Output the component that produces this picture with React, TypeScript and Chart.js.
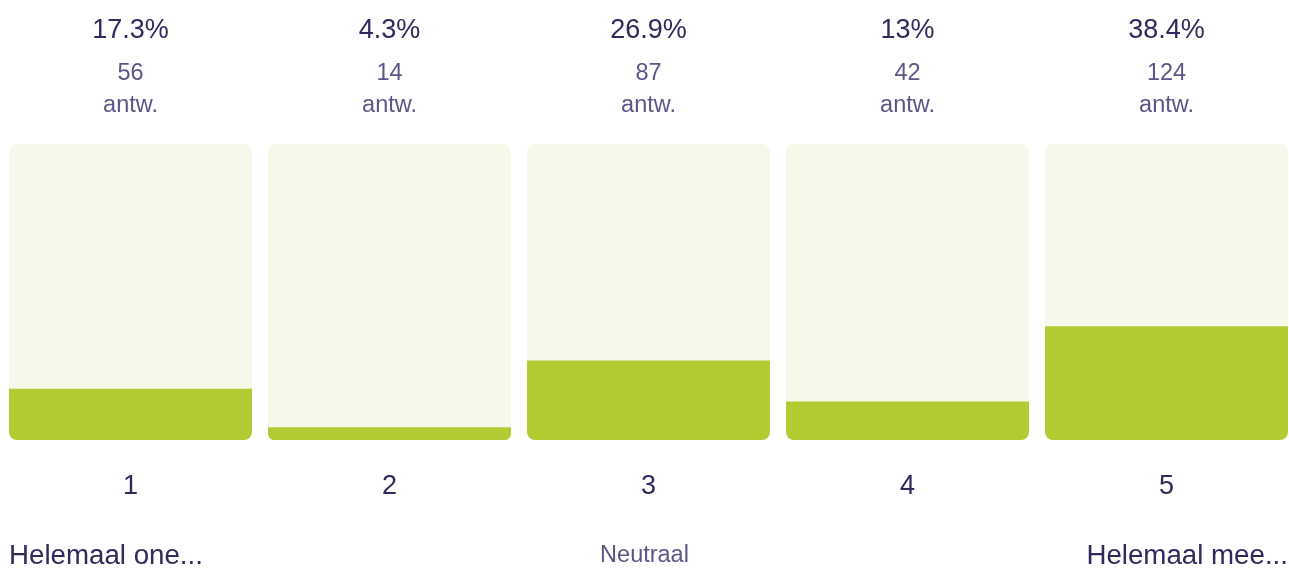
import React, { useEffect, useRef } from "react";
import { Chart, registerables } from "chart.js";

Chart.register(...registerables);

const categories = ["1", "2", "3", "4", "5"];
const percentages = [17.3, 4.3, 26.9, 13, 38.4];
const percentLabels = ["17.3%", "4.3%", "26.9%", "13%", "38.4%"];
const counts = [56, 14, 87, 42, 124];
const trackValues = [100, 100, 100, 100, 100];
const anchorLabels = ["Helemaal one...", "", "Neutraal", "", "Helemaal mee..."];

const FONT = "'Liberation Sans', Arial, sans-serif";
const DARK = "#2e2a5c";
const MID = "#5b5689";

const textPlugin = {
  id: "surveyText",
  afterDraw(chart: any) {
    const ctx = chart.ctx;
    const x = chart.scales.x;
    ctx.save();
    ctx.textAlign = "center";
    ctx.textBaseline = "alphabetic";
    categories.forEach((c, i) => {
      const cx = x.getPixelForValue(i);
      ctx.fillStyle = DARK;
      ctx.font = `27px ${FONT}`;
      ctx.fillText(percentLabels[i], cx, 38);
      ctx.fillStyle = MID;
      ctx.font = `23.5px ${FONT}`;
      ctx.fillText(String(counts[i]), cx, 80);
      ctx.fillText("antw.", cx, 112);
      ctx.fillStyle = DARK;
      ctx.font = `27px ${FONT}`;
      ctx.fillText(c, cx, 494);
    });
    const meta = chart.getDatasetMeta(1);
    anchorLabels.forEach((lab, i) => {
      if (!lab) return;
      const bar = meta.data[i];
      const half = bar.width / 2;
      if (i === 0) {
        ctx.textAlign = "left";
        ctx.fillStyle = DARK;
        ctx.font = `27.7px ${FONT}`;
        ctx.fillText(lab, bar.x - half, 564);
      } else if (i === anchorLabels.length - 1) {
        ctx.textAlign = "right";
        ctx.fillStyle = DARK;
        ctx.font = `27.7px ${FONT}`;
        ctx.fillText(lab, bar.x + half, 564);
      } else {
        ctx.textAlign = "center";
        ctx.fillStyle = MID;
        ctx.font = `23.5px ${FONT}`;
        ctx.fillText(lab, bar.x - 4, 562);
      }
    });
    ctx.restore();
  },
};

export default function App() {
  const ref = useRef<HTMLCanvasElement | null>(null);
  useEffect(() => {
    if (!ref.current) return;
    const chart = new Chart(ref.current, {
      type: "bar",
      data: {
        labels: categories,
        datasets: [
          {
            data: percentages,
            backgroundColor: "#b3ca33",
            borderRadius: { topLeft: 0, topRight: 0, bottomLeft: 8, bottomRight: 8 },
            borderSkipped: false,
            barPercentage: 0.938,
            categoryPercentage: 1,
            grouped: false,
          },
          {
            data: trackValues,
            backgroundColor: "#f6f8ea",
            borderRadius: 8,
            borderSkipped: false,
            barPercentage: 0.938,
            categoryPercentage: 1,
            grouped: false,
          },
        ],
      },
      options: {
        animation: false,
        responsive: false,
        maintainAspectRatio: false,
        layout: { padding: { top: 144, bottom: 128, left: 0, right: 0 } },
        plugins: { legend: { display: false }, tooltip: { enabled: false } },
        scales: {
          x: { display: false },
          y: { display: false, min: 0, max: 100 },
        },
      },
      plugins: [textPlugin],
    });
    return () => chart.destroy();
  }, []);
  return (
    <div style={{ position: "fixed", left: 0, top: 0, width: 1289, height: 568, overflow: "hidden", background: "#fff" }}>
      <canvas ref={ref} width={1295} height={568} style={{ position: "absolute", left: 1, top: 0, width: 1295, height: 568 }} />
    </div>
  );
}
